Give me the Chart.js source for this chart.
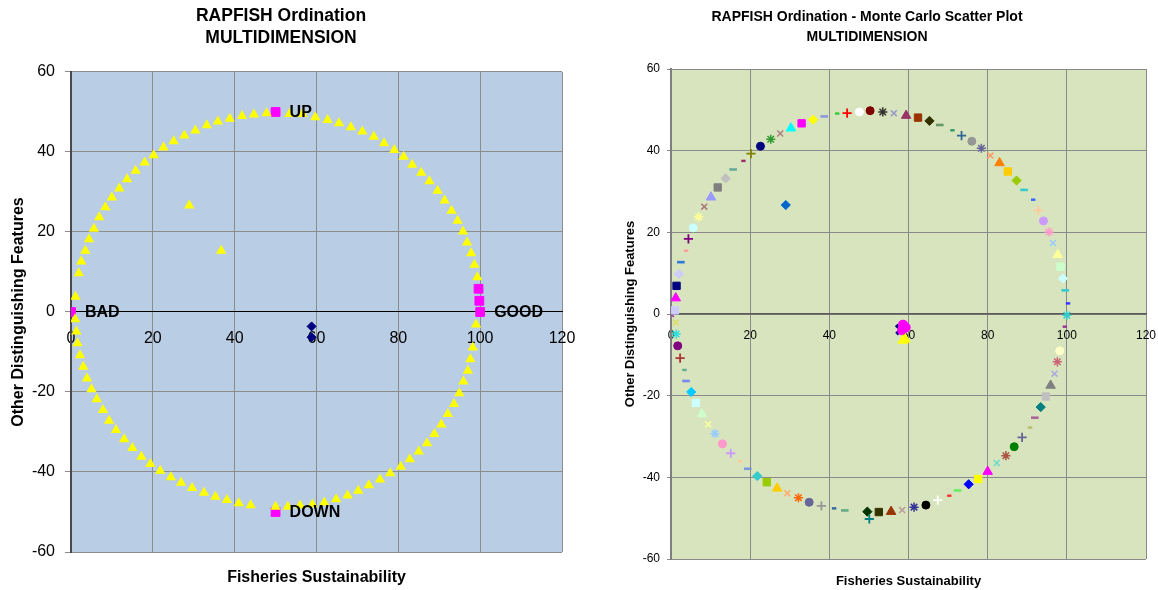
<!DOCTYPE html>
<html>
<head>
<meta charset="utf-8">
<title>RAPFISH Ordination</title>
<script src="https://cdn.jsdelivr.net/npm/chart.js@4.4.1/dist/chart.umd.min.js"></script>
<style>
    html, body { margin: 0; padding: 0; background: #ffffff; }
    #wrap { position: relative; width: 1158px; height: 590px; overflow: hidden; }
    #c1 { position: absolute; left: 0; top: 0; }
    #c2 { position: absolute; left: 588px; top: 0; }
</style>
</head>
<body>
<div id="wrap">
    <canvas id="c1" width="588" height="590"></canvas>
    <canvas id="c2" width="570" height="590"></canvas>
</div>
<script>
    'use strict'

    // axis ranges / ticks (both charts)
    var xMin = 0, xMax = 120, xStep = 20;
    var yMin = -60, yMax = 60, yStep = 20;

    // ---- left chart: ordination ----
    // reference points (yellow triangles) round the circle + two inside
    var refX = [1.1, 1.9, 2.5, 3.5, 4.4, 5.6, 6.9, 8.4, 10.0, 11.8, 13.7, 15.8, 18.0, 20.2, 22.6, 25.1, 27.7, 30.4, 33.2, 35.9,
        38.8, 41.8, 44.7, 47.8, 53.4, 56.6, 59.7, 62.7, 65.5, 68.4, 71.2, 74.0, 76.5, 79.0, 81.3, 83.4, 85.6, 87.6, 89.6, 91.3,
        93.0, 94.5, 95.8, 96.8, 97.8, 98.6, 99.3,
        99.0, 98.2, 97.6, 97.0, 95.9, 94.9, 93.6, 92.1, 90.5, 88.8, 87.0, 85.0, 82.8, 80.6, 78.0, 75.5, 72.8, 70.2, 67.6, 64.8,
        61.9, 59.0, 56.0, 53.0, 50.0, 43.9, 41.0, 38.1, 35.3, 32.5, 29.6, 26.9, 24.4, 21.8, 19.4, 17.2, 15.0, 13.0, 11.0, 9.3,
        7.8, 6.3, 5.0, 3.9, 3.0, 2.2, 1.6, 1.3, 1.0,
        28.9, 36.7];
    var refY = [3.8, 9.7, 12.6, 15.3, 18.2, 20.8, 23.7, 26.2, 28.6, 30.9, 33.2, 35.3, 37.4, 39.2, 41.1, 42.7, 44.1, 45.4, 46.7, 47.6,
        48.3, 49.0, 49.4, 49.7, 49.5, 49.5, 48.7, 48.0, 47.2, 46.2, 45.1, 43.8, 42.2, 40.5, 38.8, 36.8, 34.8, 32.7, 30.3, 27.9,
        25.3, 22.8, 20.1, 17.4, 14.7, 11.8, 8.7,
        -3.1, -8.9, -11.8, -14.7, -17.4, -20.3, -23.0, -25.5, -28.1, -30.5, -32.8, -34.9, -36.8, -38.7, -40.3, -41.9, -43.3, -44.7, -45.9, -46.8,
        -47.6, -48.1, -48.4, -48.7, -48.7, -48.3, -47.8, -47.0, -46.2, -45.2, -44.0, -42.7, -41.3, -39.7, -38.0, -36.2, -34.0, -31.8, -29.5, -27.2,
        -24.5, -21.8, -19.3, -16.6, -13.7, -10.8, -7.8, -4.9, -1.8,
        26.6, 15.3];

    // anchors (magenta squares)
    var anchorX = [0, 100, 50, 50, 99.6, 99.8];
    var anchorY = [0, 0, 50, -50, 5.8, 2.8];
    var anchorLabels = ['BAD', 'GOOD', 'UP', 'DOWN', '', ''];

    // fishery score
    var fishX = [58.8, 58.8];
    var fishY = [-3.6, -6.3];

    // ---- right chart: Monte Carlo scatter ----
    var mcX = [0, 1.0, 1.2, 1.4, 2.0, 2.5, 3.8, 4.4, 5.6, 7.0, 8.4, 10.1, 11.8, 13.8, 15.7, 18.3, 20.2, 22.6, 25.2, 27.6,
        30.3, 33.0, 35.9, 38.7, 42.0, 44.5, 47.6, 50.3, 53.5, 56.3, 59.4, 62.4, 65.3, 67.9, 71.1, 73.4, 76.0, 78.4, 80.7, 83.0,
        85.1, 87.3, 89.2, 91.5, 92.8, 94.1, 95.5, 96.5, 97.7, 98.4, 99.0, 99.6, 100.3, 100.0, 99.5,
        98.2, 97.6, 96.9, 95.9, 94.7, 93.4, 91.9, 90.7, 88.7, 86.7, 84.6, 82.3, 80.0, 77.6, 75.2, 72.4, 70.3, 67.4, 64.4, 61.4,
        58.4, 55.6, 52.5, 49.6, 50.1, 43.9, 41.2, 38.0, 34.9, 32.2, 29.4, 26.8, 24.2, 21.8, 19.4, 17.4, 15.1, 13.0, 11.1, 9.4,
        7.8, 6.3, 5.1, 3.8, 3.4, 2.3, 1.7, 1.3, 1.2,
        29.0];
    var mcY = [0, 0.9, 3.9, 6.9, 9.8, 12.7, 15.5, 18.4, 21.1, 23.8, 26.3, 28.6, 31.0, 33.2, 35.4, 37.5, 39.3, 41.1, 42.8, 44.2,
        45.5, 46.7, 47.6, 48.4, 49.1, 49.2, 49.5, 49.8, 49.5, 49.2, 48.6, 48.1, 47.3, 46.3, 45.0, 43.7, 42.3, 40.6, 38.8, 37.0,
        34.9, 32.7, 30.4, 28.0, 25.4, 22.8, 20.1, 17.4, 14.5, 11.6, 8.7, 5.8, 2.6, -0.3, -3.1,
        -9.0, -11.7, -14.6, -17.5, -20.2, -22.8, -25.4, -27.8, -30.2, -32.5, -34.7, -36.5, -38.6, -40.4, -41.7, -43.2, -44.5, -45.6, -46.8, -47.3,
        -48.0, -48.4, -48.5, -48.4, -50.2, -48.1, -47.6, -47.0, -46.1, -45.0, -43.9, -42.7, -41.2, -39.7, -37.9, -36.1, -34.1, -31.8, -29.3, -27.0,
        -24.5, -21.8, -19.1, -16.4, -13.7, -10.8, -7.8, -4.9, -2.1,
        26.7];

    // Monte Carlo runs bunched round the fishery score
    var runMagX = [58.6, 59.3, 58.4];
    var runMagY = [-2.6, -3.3, -4.0];
    var runYelX = [58.6, 59.2];
    var runYelY = [-6.5, -6.2];
    var runNavX = [57.2, 57.3];
    var runNavY = [-3.0, -4.6];

    // marker look of each Monte Carlo series (Excel cycle)
    var mcColor = ['#993399', '#CCCCFF', '#FF00FF', '#000080', '#CCCCFF', '#3377DD', '#FF9999', '#800080', '#CCFFFF', '#FFFF99',
        '#AA7777', '#9999FF', '#808080', '#C0C0C0', '#66AA99', '#993366', '#808000', '#000080', '#339933', '#B08080',
        '#00FFFF', '#FF00FF', '#FFFF00', '#8899DD', '#33CC33', '#FF0000', '#FFFFFF', '#800000', '#333333', '#9999CC',
        '#993366', '#993300', '#333300', '#669966', '#339966', '#336699', '#969696', '#666699', '#FF9966', '#FF8000',
        '#FFCC00', '#99CC00', '#33CCCC', '#3366FF', '#FFCC99', '#CC99FF', '#FF99CC', '#99CCFF', '#FFFF99', '#CCFFCC',
        '#CCFFFF', '#33CCCC', '#3333FF', '#33CCCC', '#993399',
        '#FFFFCC', '#CC6677', '#AAAADD', '#808080', '#C0C0C0', '#008080', '#AA6699', '#BBBB66', '#666699', '#008000',
        '#AA5544', '#66DDCC', '#FF00FF', '#FFFF00', '#0000FF', '#66EE66', '#FF3333', '#FFFFFF', '#000000', '#333399',
        '#BB9999', '#993300', '#333300', '#003300', '#008080', '#66AA88', '#336699', '#969696', '#666699', '#FF6600',
        '#FFAA66', '#FFCC00', '#99CC00', '#33CCCC', '#7799DD', '#FFCC99', '#CC99FF', '#FF99CC', '#99CCFF', '#FFFF99',
        '#CCFFCC', '#CCFFFF', '#00CCFF', '#7788EE', '#66AA99', '#AA3333', '#800080', '#33DDDD', '#DDDD66',
        '#0066CC'];
    var mcShape = ['x', 'square', 'triangle', 'square', 'diamond', 'dash', 'sdash', 'plus', 'circle', 'star',
        'x', 'triangle', 'square', 'diamond', 'dash', 'sdash', 'plus', 'circle', 'star', 'x',
        'triangle', 'square', 'diamond', 'dash', 'sdash', 'plus', 'circle', 'circle', 'star', 'x',
        'triangle', 'square', 'diamond', 'dash', 'sdash', 'plus', 'circle', 'star', 'x', 'triangle',
        'square', 'diamond', 'dash', 'sdash', 'plus', 'circle', 'star', 'x', 'triangle', 'square',
        'diamond', 'dash', 'sdash', 'star', 'sdash',
        'circle', 'star', 'x', 'triangle', 'square', 'diamond', 'dash', 'sdash', 'plus', 'circle',
        'star', 'x', 'triangle', 'square', 'diamond', 'dash', 'sdash', 'plus', 'circle', 'star',
        'x', 'triangle', 'square', 'diamond', 'plus', 'dash', 'sdash', 'plus', 'circle', 'star',
        'x', 'triangle', 'square', 'diamond', 'dash', 'sdash', 'plus', 'circle', 'star', 'x',
        'triangle', 'square', 'diamond', 'dash', 'sdash', 'plus', 'circle', 'star', 'x',
        'diamond'];

    var FONT = '"Liberation Sans", Arial, sans-serif';
    Chart.defaults.font.family = FONT;
    Chart.defaults.color = '#000000';

    function pts(xs, ys) {
        return xs.map(function (x, i) { return { x: x, y: ys[i] }; });
    }

    // Excel marker name -> chart.js point style
    var styleOf = { x: 'crossRot', square: 'rect', triangle: 'triangle', diamond: 'rectRot', star: 'star',
        circle: 'circle', plus: 'cross', dash: 'line', sdash: 'line' };
    var radiusOf = { x: 4.2, square: 5.2, triangle: 5.5, diamond: 4.6, star: 4.6, circle: 4, plus: 4.6, dash: 3.8, sdash: 2.2 };
    var widthOf = { x: 1.5, square: 1, triangle: 1, diamond: 1, star: 1.5, circle: 1, plus: 1.8, dash: 2.6, sdash: 2.4 };

    // fills the plot area
    var plotBg = {
        id: 'plotBg',
        beforeDraw: function (chart, args, opts) {
            var a = chart.chartArea, ctx = chart.ctx;
            ctx.save();
            ctx.fillStyle = opts.color;
            ctx.fillRect(a.left, a.top, a.right - a.left, a.bottom - a.top);
            ctx.restore();
        }
    };

    // BAD / GOOD / UP / DOWN next to the anchors
    var anchorText = {
        id: 'anchorText',
        afterDatasetsDraw: function (chart) {
            var ctx = chart.ctx, xs = chart.scales.x, ys = chart.scales.y;
            ctx.save();
            ctx.font = 'bold 16px ' + FONT;
            ctx.fillStyle = '#000000';
            ctx.textAlign = 'left';
            ctx.textBaseline = 'middle';
            for (var i = 0; i < anchorLabels.length; i++) {
                if (!anchorLabels[i]) continue;
                ctx.fillText(anchorLabels[i], xs.getPixelForValue(anchorX[i]) + 14, ys.getPixelForValue(anchorY[i]) + 1);
            }
            ctx.restore();
        }
    };

    function scalesFor(s) {
        return {
            x: {
                type: 'linear', position: { y: 0 }, min: xMin, max: xMax,
                ticks: { stepSize: xStep, padding: s.xPad, color: '#000000', font: { size: s.tick } },
                grid: { color: s.grid, tickLength: s.tickLen },
                border: { color: s.xAxis, width: s.xAxisW },
                // the last tick label may hang out past the plot, as in Excel
                afterFit: function (scale) { scale.paddingLeft = 0; scale.paddingRight = 0; }
            },
            xt: {
                type: 'linear', position: 'bottom',
                ticks: { display: false },
                grid: { display: false, drawTicks: false },
                border: { display: false },
                title: { display: true, text: 'Fisheries Sustainability', color: '#000000',
                    font: { size: s.axTitle, weight: 'bold' }, padding: { top: s.xtTop, bottom: s.xtBot } }
            },
            y: {
                type: 'linear', min: yMin, max: yMax,
                ticks: { stepSize: yStep, padding: s.yPad, color: '#000000', font: { size: s.tick } },
                grid: { color: s.grid, tickLength: s.tickLen },
                border: { color: s.yAxis, width: 2 },
                title: { display: true, text: 'Other Distinguishing Features', color: '#000000',
                    font: { size: s.axTitle, weight: 'bold' }, padding: { top: s.ytTop, bottom: 0 } },
                afterFit: function (scale) { scale.width = s.yWidth; }
            }
        };
    }

    // ---- left ----
    new Chart(document.getElementById('c1'), {
        type: 'scatter',
        data: {
            datasets: [{
                label: 'Reference', data: pts(refX, refY), xAxisID: 'x', yAxisID: 'y',
                pointStyle: 'triangle', pointRadius: 6, pointBorderWidth: 0,
                pointBackgroundColor: '#FFFF00', pointBorderColor: '#FFFF00'
            }, {
                label: 'Anchors', data: pts(anchorX, anchorY), xAxisID: 'x', yAxisID: 'y',
                pointStyle: 'rect', pointRadius: 6.2, pointBorderWidth: 1,
                pointBackgroundColor: '#FF00FF', pointBorderColor: '#FF00FF'
            }, {
                label: 'Fisheries', data: pts(fishX, fishY), xAxisID: 'x', yAxisID: 'y',
                pointStyle: 'rectRot', pointRadius: 4.5, pointBorderWidth: 1,
                pointBackgroundColor: '#000080', pointBorderColor: '#000080'
            }]
        },
        options: {
            responsive: false, animation: false,
            layout: { padding: { left: 0, right: 26, top: 0, bottom: 0 } },
            plugins: {
                legend: { display: false }, tooltip: { enabled: false },
                title: {
                    display: true, text: ['RAPFISH Ordination', 'MULTIDIMENSION'], color: '#000000',
                    font: { size: 17.5, weight: 'bold', lineHeight: 1.257 },
                    padding: { top: 5.5, bottom: 22.5 }
                },
                plotBg: { color: '#B9CDE5' }
            },
            scales: scalesFor({ tick: 16, xPad: 11, yPad: 10, tickLen: 6, grid: '#8C8C8C', xAxis: '#000000', xAxisW: 1,
                yAxis: '#4A4A4A', axTitle: 16, xtTop: 16.4, xtBot: 2.4, ytTop: 9, yWidth: 71 })
        },
        plugins: [plotBg, anchorText]
    });

    // ---- right ----
    new Chart(document.getElementById('c2'), {
        type: 'scatter',
        data: {
            datasets: [{
                label: 'Runs yellow', data: pts(runYelX, runYelY), xAxisID: 'x', yAxisID: 'y',
                pointStyle: 'triangle', pointRadius: 6.5, pointBorderWidth: 0,
                pointBackgroundColor: '#FFFF00', pointBorderColor: '#FFFF00'
            }, {
                label: 'Runs magenta', data: pts(runMagX, runMagY), xAxisID: 'x', yAxisID: 'y',
                pointStyle: 'circle', pointRadius: 5, pointBorderWidth: 0,
                pointBackgroundColor: '#FF00FF', pointBorderColor: '#FF00FF'
            }, {
                label: 'Runs navy', data: pts(runNavX, runNavY), xAxisID: 'x', yAxisID: 'y',
                pointStyle: 'rectRot', pointRadius: 2.6, pointBorderWidth: 0,
                pointBackgroundColor: '#000080', pointBorderColor: '#000080'
            }, {
                label: 'Monte Carlo', data: pts(mcX, mcY), xAxisID: 'x', yAxisID: 'y',
                pointStyle: mcShape.map(function (k) { return styleOf[k]; }),
                pointRadius: mcShape.map(function (k) { return radiusOf[k]; }),
                pointBorderWidth: mcShape.map(function (k) { return widthOf[k]; }),
                pointBackgroundColor: mcColor, pointBorderColor: mcColor
            }]
        },
        options: {
            responsive: false, animation: false,
            layout: { padding: { left: 0, right: 12, top: 0, bottom: 0 } },
            plugins: {
                legend: { display: false }, tooltip: { enabled: false },
                title: {
                    display: true, text: ['RAPFISH Ordination - Monte Carlo Scatter Plot', 'MULTIDIMENSION'], color: '#000000',
                    font: { size: 14, weight: 'bold', lineHeight: 1.43 },
                    padding: { top: 7.5, bottom: 21.5 }
                },
                plotBg: { color: '#D7E4BD' }
            },
            scales: scalesFor({ tick: 12, xPad: 10, yPad: 7, tickLen: 4, grid: '#8A8A8A', xAxis: '#5A5A5A', xAxisW: 1.5,
                yAxis: '#7F7F7F', axTitle: 13, xtTop: 14.2, xtBot: 1.2, ytTop: 35, yWidth: 83 })
        },
        plugins: [plotBg]
    });
</script>
</body>
</html>
